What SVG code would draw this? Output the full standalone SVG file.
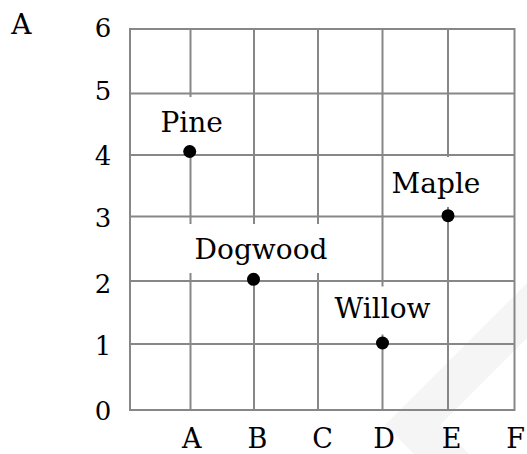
<svg xmlns="http://www.w3.org/2000/svg" width="527" height="454" viewBox="0 0 527 454">
<style>
.grid{fill:none;stroke:#878787;stroke-width:2}
.lbl{font-family:"DejaVu Serif","Liberation Serif",serif;font-size:28px;fill:#000;text-anchor:middle}
.ax{font-family:"DejaVu Serif","Liberation Serif",serif;font-size:27px;fill:#000;text-anchor:middle}
.num{font-family:"DejaVu Serif","Liberation Serif",serif;font-size:26px;fill:#000;text-anchor:middle}
.box{fill:#fff;stroke:none}
.dot{fill:#000}
</style>
<rect width="527" height="454" fill="#fff"/>
<polygon points="385,425 527,283 527,338 440,425 469,454 414,454" fill="#f5f5f5"/>
<g id="grid">
<path class="grid" d="M130,29H514.5V410H130Z M190.5,29V410 M254,29V410 M318,29V410 M382.5,29V410 M448,29V410 M130,93.5H514.5 M130,155H514.5 M130,216.5H514.5 M130,281H514.5 M130,344H514.5"/>
</g>
<g id="y-axis">
<text class="num" x="103" y="37">6</text>
<text class="num" x="103" y="100">5</text>
<text class="num" x="103" y="165">4</text>
<text class="num" x="103" y="227">3</text>
<text class="num" x="103" y="293">2</text>
<text class="num" x="103" y="355">1</text>
<text class="num" x="103" y="419.5">0</text>
</g>
<g id="x-axis">
<text class="ax" x="191.7" y="447.5">A</text>
<text class="ax" x="257.5" y="447.5">B</text>
<text class="ax" x="322.5" y="447.5">C</text>
<text class="ax" x="384" y="447.5">D</text>
<text class="ax" x="451.7" y="447.5">E</text>
<text class="ax" x="515.5" y="447.5">F</text>
</g>
<text class="lbl" x="21.3" y="34.3">A</text>
<g id="pine">
<rect class="box" x="152" y="97" width="80" height="49"/>
<text class="lbl" x="191.7" y="131.5">Pine</text>
<circle class="dot" cx="189.7" cy="151.5" r="6.5"/>
</g>
<g id="dogwood">
<rect class="box" x="188" y="224" width="146" height="49"/>
<text class="lbl" x="261" y="259.3">Dogwood</text>
<circle class="dot" cx="253.5" cy="279.3" r="6.5"/>
</g>
<g id="maple">
<rect class="box" x="386" y="157" width="100" height="50"/>
<text class="lbl" x="436" y="192.7">Maple</text>
<circle class="dot" cx="448" cy="215.7" r="6.5"/>
</g>
<g id="willow">
<rect class="box" x="327" y="286.5" width="111" height="48"/>
<text class="lbl" x="382.5" y="318.3">Willow</text>
<circle class="dot" cx="382.5" cy="343" r="6.5"/>
</g>
</svg>
